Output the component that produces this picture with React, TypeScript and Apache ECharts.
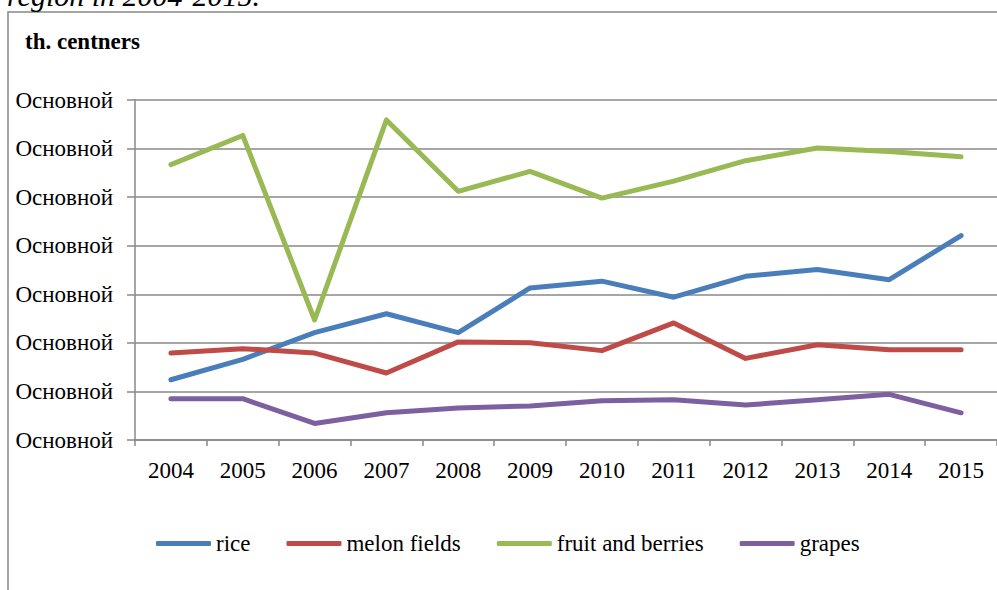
import React, { useEffect, useRef } from "react";
import * as echarts from "echarts";

const years = ["2004", "2005", "2006", "2007", "2008", "2009", "2010", "2011", "2012", "2013", "2014", "2015"];
const rice = [12.4, 16.6, 22.1, 26.0, 22.1, 31.3, 32.7, 29.4, 33.7, 35.1, 33.0, 42.1];
const melonFields = [17.9, 18.8, 17.9, 13.8, 20.2, 20.0, 18.4, 24.1, 16.8, 19.6, 18.6, 18.6];
const fruitAndBerries = [56.7, 62.7, 24.7, 65.9, 51.2, 55.3, 49.8, 53.3, 57.5, 60.1, 59.4, 58.3];
const grapes = [8.5, 8.5, 3.4, 5.6, 6.6, 7.0, 8.1, 8.3, 7.2, 8.3, 9.4, 5.6];
const yTickLabel = "Основной";
const seriesNames = ["rice", "melon fields", "fruit and berries", "grapes"];
const colors = ["#4a7ebb", "#be4b48", "#98b954", "#7d60a0"];

const FONT = "Liberation Serif, Times New Roman, DejaVu Serif, serif";
const GRID_COLOR = "#888888";

export default function App() {
  const ref = useRef<HTMLDivElement>(null);
  useEffect(() => {
    if (!ref.current) return;
    const chart = echarts.init(ref.current, undefined, { renderer: "svg" });
    const data = [rice, melonFields, fruitAndBerries, grapes];
    chart.setOption({
      animation: false,
      backgroundColor: "#ffffff",
      textStyle: { fontFamily: FONT },
      graphic: [
        {
          type: "rect",
          shape: { x: 8, y: 12, width: 1200, height: 800 },
          style: { fill: "none", stroke: GRID_COLOR, lineWidth: 1.5 },
          silent: true,
        },
        {
          type: "text",
          x: 7,
          y: 10,
          style: {
            text: "region in 2004-2015.",
            fontFamily: FONT,
            fontSize: 30,
            fontStyle: "italic",
            fill: "#000",
            verticalAlign: "bottom",
          },
        },
        {
          type: "text",
          x: 25,
          y: 41,
          style: {
            text: "th. centners",
            fontFamily: FONT,
            fontSize: 23,
            fontWeight: "bold",
            fill: "#000",
            verticalAlign: "middle",
          },
        },
      ],
      grid: { left: 135, top: 100, width: 875, height: 340, containLabel: false },
      xAxis: {
        type: "category",
        data: years,
        boundaryGap: true,
        axisLine: { show: true, lineStyle: { color: GRID_COLOR, width: 1.5 } },
        axisTick: { show: true, length: 6, lineStyle: { color: GRID_COLOR, width: 1.5 } },
        axisLabel: { color: "#000", fontSize: 23, fontFamily: FONT, margin: 19 },
        splitLine: { show: false },
      },
      yAxis: {
        type: "value",
        min: 0,
        max: 70,
        interval: 10,
        axisLine: { show: true, lineStyle: { color: GRID_COLOR, width: 1.5 } },
        axisTick: { show: true, length: 8, lineStyle: { color: GRID_COLOR, width: 1.5 } },
        axisLabel: { color: "#000", fontSize: 23, fontFamily: FONT, margin: 22, formatter: () => yTickLabel },
        splitLine: { show: true, lineStyle: { color: GRID_COLOR, width: 1.5 } },
      },
      legend: {
        show: true,
        left: 151,
        top: 527,
        itemWidth: 55,
        itemHeight: 5,
        itemGap: 36,
        icon: "roundRect",
        textStyle: { color: "#000", fontSize: 23, fontFamily: FONT },
        data: seriesNames,
      },
      series: seriesNames.map((name, i) => ({
        name,
        type: "line",
        data: data[i],
        symbol: "none",
        showSymbol: false,
        color: colors[i],
        lineStyle: { color: colors[i], width: 5, cap: "round", join: "round" },
        itemStyle: { color: colors[i] },
      })),
    });
    return () => chart.dispose();
  }, []);
  return (
    <div
      ref={ref}
      style={{ position: "absolute", left: 0, top: 0, width: 997, height: 590 }}
    />
  );
}
